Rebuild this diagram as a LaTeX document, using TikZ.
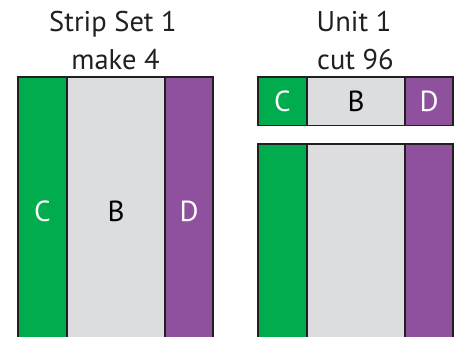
\documentclass[tikz,border=0pt]{standalone}
\usepackage{fontspec}
\setmainfont{PT Sans}
\usepackage{tikz}
\usetikzlibrary{positioning}
\definecolor{stripgreen}{HTML}{00AC4E}
\definecolor{stripgrey}{HTML}{DCDDDF}
\definecolor{strippurple}{HTML}{8F519E}
\definecolor{edge}{HTML}{231F20}
\tikzstyle{cell} = [rectangle, draw=edge, line width=1.2pt, outer sep=0pt, inner sep=0pt, text centered, font=\fontsize{29}{33}\selectfont]
\tikzstyle{cellC} = [cell, fill=stripgreen, text=white, minimum width=49pt]
\tikzstyle{cellB} = [cell, fill=stripgrey, text=black, minimum width=98pt]
\tikzstyle{cellD} = [cell, fill=strippurple, text=white, minimum width=48pt]
\tikzstyle{heading} = [anchor=base, inner sep=0pt, text=edge, font=\fontsize{28.5}{33}\selectfont]
\begin{document}
\begin{tikzpicture}[x=1pt, y=-1pt]
		\clip (0,0) rectangle (456,337);

		% Draw the headings
		\node (set1) [heading] at (113,32) {Strip Set 1};
		\node (make4) [heading] at (115.5,70) {make 4};
		\node (unit1) [heading] at (354,32) {Unit 1};
		\node (cut96) [heading] at (355.5,70) {cut 96};

		% Strip set
		\node (setC) [cellC, minimum height=268pt, anchor=north west] at (18,77) {C};
		\node (setB) [cellB, minimum height=268pt, right=0pt of setC] {B};
		\node (setD) [cellD, minimum height=268pt, right=0pt of setB] {D};

		% Unit, cut piece
		\node (unitC) [cellC, minimum height=48.5pt, anchor=north west] at (258,77) {C};
		\node (unitB) [cellB, minimum height=48.5pt, right=0pt of unitC] {B};
		\node (unitD) [cellD, minimum height=48.5pt, right=0pt of unitB] {D};

		% Unit, rest of the strip set
		\node (restC) [cellC, minimum height=201pt, below=18.5pt of unitC.south, anchor=north] {};
		\node (restB) [cellB, minimum height=201pt, right=0pt of restC] {};
		\node (restD) [cellD, minimum height=201pt, right=0pt of restB] {};

\end{tikzpicture}
\end{document}
